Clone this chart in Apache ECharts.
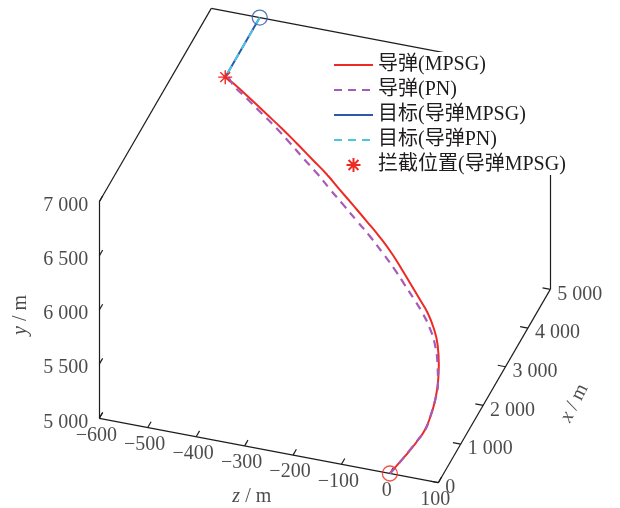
<!DOCTYPE html>
<html>
<head>
<meta charset="utf-8">
<script src="https://cdn.jsdelivr.net/npm/echarts@6/dist/echarts.min.js"></script>
<style>
  html, body { margin: 0; padding: 0; background: #fff; }
  #chart { width: 620px; height: 508px; }
</style>
</head>
<body>
<div id="chart"></div>
<script>
// Axis ranges (m)
const xRange = [0, 5000];
const yRange = [5000, 7000];
const zRange = [-600, 100];

// Tick values
const xTicks = [0, 1000, 2000, 3000, 4000, 5000];
const yTicks = [5000, 5500, 6000, 6500, 7000];
const zTicks = [-600, -500, -400, -300, -200, -100, 0, 100];

// Trajectories, each point [x, y, z] in metres
const missileMPSG = [
  [0, 5000, 0], [107, 5082, 16], [217, 5166, 32], [308, 5237, 44], [394, 5307, 54],
  [500, 5404, 61], [618, 5513, 65], [740, 5627, 65], [867, 5744, 61], [1009, 5870, 52],
  [1133, 5971, 38], [1255, 6059, 19], [1353, 6119, 0], [1480, 6196, -25], [1612, 6275, -51],
  [1751, 6353, -79], [1887, 6422, -109], [2025, 6484, -141], [2173, 6550, -176],
  [2319, 6611, -210], [2466, 6677, -245], [2615, 6731, -282], [2768, 6787, -320],
  [2918, 6840, -358], [3073, 6889, -398], [3228, 6938, -438], [3381, 6983, -478],
  [3460, 7000, -500]
];
const missilePN = [
  [0, 5000, 0], [110, 5080, 16], [224, 5164, 31], [318, 5233, 43], [407, 5302, 54],
  [516, 5398, 60], [638, 5505, 64], [763, 5617, 64], [895, 5731, 57], [1043, 5852, 45],
  [1173, 5948, 28], [1303, 6031, 6], [1406, 6088, -14], [1541, 6160, -41], [1680, 6234, -69],
  [1829, 6307, -101], [1972, 6372, -132], [2115, 6432, -165], [2268, 6496, -200],
  [2418, 6555, -234], [2569, 6620, -268], [2716, 6677, -303], [2867, 6737, -338],
  [3014, 6793, -373], [3169, 6844, -411], [3324, 6895, -449], [3474, 6944, -486],
  [3560, 7000, -500]
];
const targetMPSG = [[5000, 7000, -500], [3460, 7000, -500]];
const targetPN = [[5000, 7000, -500], [3560, 7000, -500]];
const interceptMPSG = [[3460, 7000, -500]];
const missileStart = [[0, 5000, 0]];
const targetStart = [[5000, 7000, -500]];

const names = ['导弹(MPSG)', '导弹(PN)', '目标(导弹MPSG)', '目标(导弹PN)', '拦截位置(导弹MPSG)'];

// Oblique view of the 3-D box: screen position of the (x0, y0, z0) corner and
// the screen vector spanned by each full axis range.
const view = {
  origin: [99.3, 418.3],
  xSpan: [112, -193.3],
  ySpan: [0, -216.6],
  zSpan: [339, 64.4]
};

function proj(p) {
  const tx = (p[0] - xRange[0]) / (xRange[1] - xRange[0]);
  const ty = (p[1] - yRange[0]) / (yRange[1] - yRange[0]);
  const tz = (p[2] - zRange[0]) / (zRange[1] - zRange[0]);
  return [
    view.origin[0] + tx * view.xSpan[0] + ty * view.ySpan[0] + tz * view.zSpan[0],
    view.origin[1] + tx * view.xSpan[1] + ty * view.ySpan[1] + tz * view.zSpan[1]
  ];
}

function fmtTick(v) {
  const s = String(Math.abs(v)).replace(/\B(?=(\d{3})+(?!\d))/g, ' ');
  return (v < 0 ? '\u2212' : '') + s;
}

// label offsets are applied in the rotated text frame; convert a screen shift
function rotOffset(dx, dy, deg) {
  const t = deg * Math.PI / 180, c = Math.cos(t), s = Math.sin(t);
  return [dx * c - dy * s, dx * s + dy * c];
}

const FONT = "'Liberation Serif', 'Noto Sans CJK SC', serif";
const INK = '#1e1c1d';
const [x0, x1] = xRange, [y0, y1] = yRange, [z0, z1] = zRange;

// Box edges drawn as axis lines
const edges = [
  [[x0, y0, z0], [x0, y0, z1]],   // z axis
  [[x0, y0, z1], [x1, y0, z1]],   // x axis
  [[x0, y0, z0], [x0, y1, z0]],   // y axis
  [[x0, y1, z0], [x1, y1, z0]],
  [[x1, y1, z0], [x1, y1, z1]],
  [[x1, y0, z1], [x1, y1, z1]]
];
const tickLenX = 150, tickLenZ = 16;
const ticks = []
  .concat(yTicks.map(v => [[x0, v, z0], [x0 + tickLenX, v, z0]]))
  .concat(zTicks.map(v => [[x0, y0, v], [x0 + tickLenX, y0, v]]))
  .concat(xTicks.map(v => [[v, y0, z1], [v, y0, z1 - tickLenZ]]));

const segData = edges.concat(ticks).map(s => ({ coords: [proj(s[0]), proj(s[1])] }));

function textSeries(items, label) {
  return {
    type: 'scatter',
    silent: true,
    symbolSize: 1,
    itemStyle: { color: 'rgba(0,0,0,0)' },
    label: Object.assign({
      show: true,
      position: 'inside',
      fontFamily: FONT,
      fontSize: 20,
      color: INK,
      formatter: p => p.data.text
    }, label),
    data: items
  };
}

const mid = (a, b) => (a + b) / 2;
const italic = { i: { fontStyle: 'italic', fontFamily: FONT, fontSize: 20, color: INK } };
const hideSymbol = { opacity: 0 };

const chart = echarts.init(document.getElementById('chart'), null, { renderer: 'canvas' });
chart.setOption({
  animation: false,
  backgroundColor: '#fff',
  grid: { left: 0, right: 0, top: 0, bottom: 0 },
  xAxis: { type: 'value', min: 0, max: 620, show: false },
  yAxis: { type: 'value', min: 0, max: 508, inverse: true, show: false },
  legend: {
    orient: 'vertical',
    left: 328,
    top: 52,
    padding: [3, 10, 0, 5],
    backgroundColor: '#fff',
    itemWidth: 39,
    itemHeight: 14,
    itemGap: 5,
    textStyle: { fontFamily: FONT, fontSize: 20, lineHeight: 20, color: INK },
    data: [
      { name: names[0], itemStyle: hideSymbol },
      { name: names[1], itemStyle: hideSymbol },
      { name: names[2], itemStyle: hideSymbol },
      { name: names[3], itemStyle: hideSymbol },
      { name: names[4] }
    ]
  },
  series: [
    {
      type: 'lines',
      coordinateSystem: 'cartesian2d',
      silent: true,
      z: 1,
      lineStyle: { color: INK, width: 1.2, opacity: 1 },
      data: segData
    },
    // tick labels
    textSeries(yTicks.map(v => ({ value: proj([x0, v, z0]), text: fmtTick(v) })),
      { align: 'right', verticalAlign: 'middle', offset: [-11, 4] }),
    textSeries(zTicks.map(v => ({ value: proj([x0, y0, v]), text: fmtTick(v) })),
      { align: 'center', verticalAlign: 'middle', offset: [-3, 17] }),
    textSeries(xTicks.map(v => ({ value: proj([v, y0, z1]), text: fmtTick(v) })),
      { align: 'left', verticalAlign: 'middle', offset: [7, 5] }),
    // axis titles
    textSeries([{ value: proj([x0, mid(y0, y1), z0]), text: '{i|y} / m' }],
      { align: 'center', verticalAlign: 'middle', rotate: 90,
        offset: rotOffset(-79, 5, 90), rich: italic }),
    textSeries([{ value: proj([x0, y0, mid(z0, z1)]), text: '{i|z} / m' }],
      { align: 'center', verticalAlign: 'middle', offset: [-17, 46], rich: italic }),
    textSeries([{ value: proj([mid(x0, x1), y0, z1]), text: '{i|x} / m' }],
      { align: 'center', verticalAlign: 'middle', rotate: 63,
        offset: rotOffset(80, 17, 63), rich: italic }),
    // trajectories
    {
      name: names[0], type: 'line', symbol: 'none', smooth: 0.5, z: 3,
      lineStyle: { color: '#ee2a24', width: 2 },
      itemStyle: { color: '#ee2a24' },
      data: missileMPSG.map(proj)
    },
    {
      name: names[1], type: 'line', symbol: 'none', smooth: 0.5, z: 3,
      lineStyle: { color: '#a65bb8', width: 2.2, type: [8, 6] },
      itemStyle: { color: '#a65bb8' },
      data: missilePN.map(proj)
    },
    {
      name: names[2], type: 'line', symbol: 'none', z: 3,
      lineStyle: { color: '#2b58a8', width: 2 },
      itemStyle: { color: '#2b58a8' },
      data: targetMPSG.map(proj)
    },
    {
      name: names[3], type: 'line', symbol: 'none', z: 3,
      lineStyle: { color: '#4cc5e0', width: 2, type: [8, 6] },
      itemStyle: { color: '#4cc5e0' },
      data: targetPN.map(proj)
    },
    {
      name: names[4], type: 'scatter', z: 4,
      symbol: 'path://M12,0V24M0,12H24M3.5,3.5L20.5,20.5M3.5,20.5L20.5,3.5',
      symbolSize: 14,
      itemStyle: { color: 'rgba(0,0,0,0)', borderColor: '#ee2a24', borderWidth: 1.4, opacity: 1 },
      data: interceptMPSG.map(proj)
    },
    // start markers
    {
      type: 'scatter', silent: true, z: 4, symbol: 'circle', symbolSize: 15,
      itemStyle: { color: 'rgba(0,0,0,0)', borderColor: '#ee2a24', borderWidth: 1.3 },
      data: missileStart.map(proj)
    },
    {
      type: 'scatter', silent: true, z: 4, symbol: 'circle', symbolSize: 15,
      itemStyle: { color: 'rgba(0,0,0,0)', borderColor: '#2b58a8', borderWidth: 1.3 },
      data: targetStart.map(proj)
    }
  ]
});
</script>
</body>
</html>
